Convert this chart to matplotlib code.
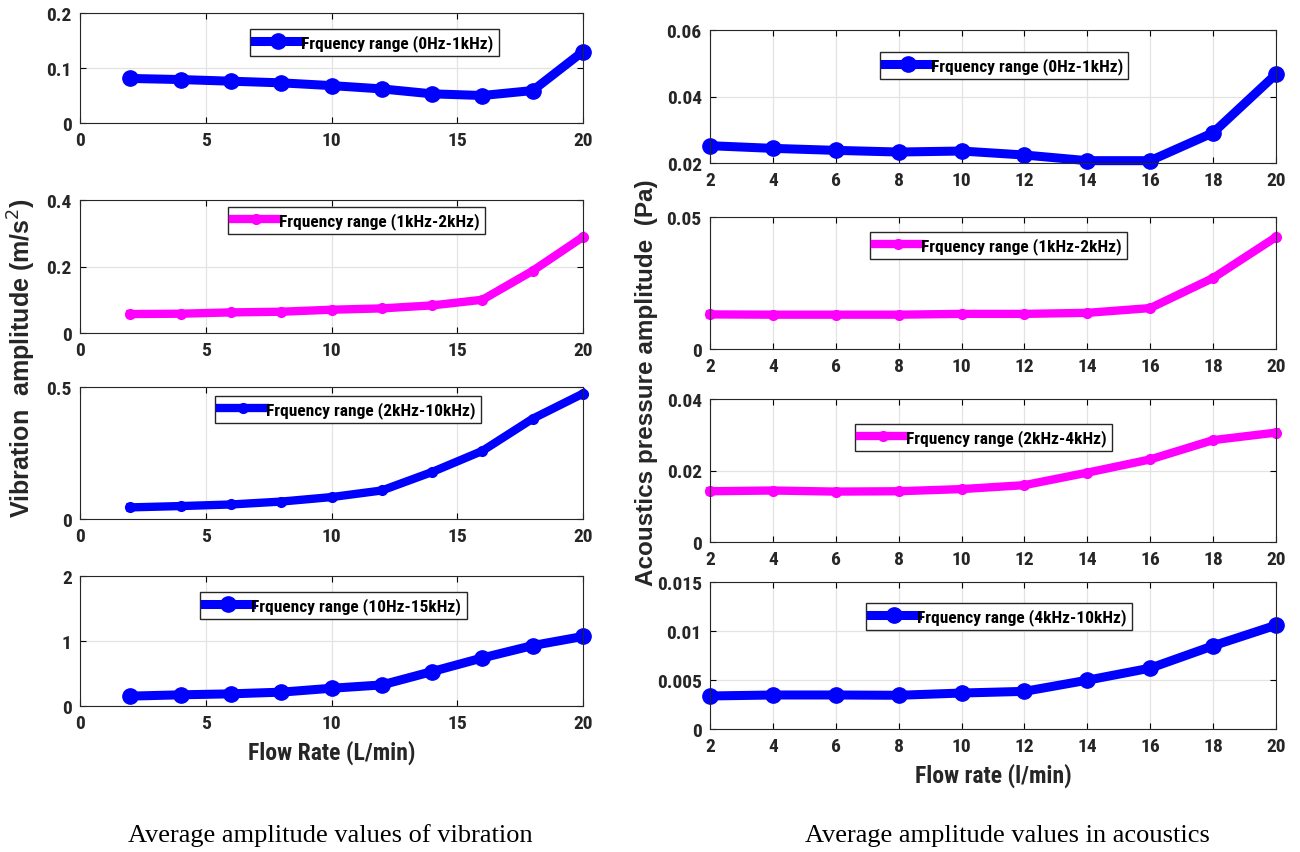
import matplotlib
matplotlib.use("Agg")
import matplotlib.pyplot as plt
from matplotlib import font_manager

# ---------------- data ----------------
flow = [2, 4, 6, 8, 10, 12, 14, 16, 18, 20]

vib_0_1k = [0.081, 0.079, 0.076, 0.073, 0.068, 0.062, 0.053, 0.050, 0.059, 0.130]
vib_1k_2k = [0.057, 0.058, 0.062, 0.064, 0.070, 0.074, 0.083, 0.100, 0.187, 0.289]
vib_2k_10k = [0.044, 0.049, 0.055, 0.066, 0.083, 0.108, 0.178, 0.258, 0.380, 0.475]
vib_10_15k = [0.152, 0.172, 0.187, 0.213, 0.273, 0.324, 0.530, 0.740, 0.930, 1.070]

ac_0_1k = [0.0252, 0.0244, 0.0238, 0.0233, 0.0236, 0.0224, 0.0207, 0.0207, 0.0291, 0.0467]
ac_1k_2k = [0.0131, 0.0130, 0.0130, 0.0130, 0.0133, 0.0133, 0.0137, 0.0155, 0.0269, 0.0424]
ac_2k_4k = [0.0142, 0.0144, 0.0141, 0.0142, 0.0148, 0.0159, 0.0194, 0.0231, 0.0285, 0.0306]
ac_4k_10k = [0.00337, 0.00347, 0.00347, 0.00344, 0.00367, 0.00384, 0.00498, 0.00621, 0.00849, 0.01059]

vib_labels = ["Frquency range (0Hz-1kHz)", "Frquency range (1kHz-2kHz)",
              "Frquency range (2kHz-10kHz)", "Frquency range (10Hz-15kHz)"]
ac_labels = ["Frquency range (0Hz-1kHz)", "Frquency range (1kHz-2kHz)",
             "Frquency range (2kHz-4kHz)", "Frquency range (4kHz-10kHz)"]

vib_yticks = [[0, 0.1, 0.2], [0, 0.2, 0.4], [0, 0.5], [0, 1, 2]]
vib_yticklabels = [["0", "0.1", "0.2"], ["0", "0.2", "0.4"], ["0", "0.5"], ["0", "1", "2"]]
vib_xticks = [0, 5, 10, 15, 20]
ac_yticks = [[0.02, 0.04, 0.06], [0, 0.05], [0, 0.02, 0.04], [0, 0.005, 0.01, 0.015]]
ac_yticklabels = [["0.02", "0.04", "0.06"], ["0", "0.05"], ["0", "0.02", "0.04"],
                  ["0", "0.005", "0.01", "0.015"]]
ac_xticks = [2, 4, 6, 8, 10, 12, 14, 16, 18, 20]

# ---------------- fonts ----------------
names = {f.name for f in font_manager.fontManager.ttflist}
narrow = "Liberation Sans"
for cand in ["Liberation Sans Narrow", "Arial Narrow", "Roboto Condensed", "PT Sans Narrow",
             "Archivo Narrow", "Open Sans Condensed", "IBM Plex Sans Condensed"]:
    if cand in names:
        narrow = cand
        break
NARROW = [narrow, "DejaVu Sans"]

BLUE = "#0000ff"
MAG = "#ff00ff"
big = dict(lw=6.5, marker="o", ms=11)
small = dict(lw=6, marker="o", ms=7)

W, H = 1300, 853
fig = plt.figure(figsize=(W / 100, H / 100), dpi=100)


def rect(x0, x1, y0, y1):
    return [x0 / W, 1 - y1 / H, (x1 - x0) / W, (y1 - y0) / H]


left_rows = [(14, 124), (201, 334), (388, 520), (577, 707)]
right_rows = [(31, 164), (218, 350), (400, 543), (583, 730)]

vib_data = [vib_0_1k, vib_1k_2k, vib_2k_10k, vib_10_15k]
ac_data = [ac_0_1k, ac_1k_2k, ac_2k_4k, ac_4k_10k]
vib_style = [(BLUE, big), (MAG, small), (BLUE, small), (BLUE, big)]
ac_style = [(BLUE, big), (MAG, small), (MAG, small), (BLUE, big)]
vib_leg = [(0.338, 0.855), (0.294, 0.947), (0.268, 0.932), (0.239, 0.877)]
ac_leg = [(0.300, 0.835), (0.283, 0.886), (0.256, 0.825), (0.276, 0.857)]
vib_ylim = [(0, 0.2), (0, 0.4), (0, 0.5), (0, 2)]
ac_ylim = [(0.02, 0.06), (0, 0.05), (0, 0.04), (0, 0.015)]


def style_ax(ax):
    ax.grid(True, color="#e3e3e3", lw=0.9)
    ax.set_axisbelow(True)
    ax.tick_params(direction="in", top=True, right=True, length=4, width=0.8,
                   labelsize=14, pad=6)
    for lab in ax.get_xticklabels() + ax.get_yticklabels():
        lab.set_fontfamily(NARROW)
        lab.set_fontweight("bold")
        lab.set_color("#262626")
    for s in ax.spines.values():
        s.set_color("#262626")
        s.set_linewidth(0.8)


def leg(ax, pos):
    ax.legend(loc="upper left", bbox_to_anchor=pos, fancybox=False, framealpha=1,
              edgecolor="#262626", borderpad=0.3, handlelength=2.6, handletextpad=0.05,
              borderaxespad=0, prop={"family": NARROW, "weight": "bold", "size": 12.5})


for i in range(4):
    ax = fig.add_axes(rect(80, 583, *left_rows[i]))
    c, st = vib_style[i]
    ax.plot(flow, vib_data[i], color=c, mec=c, mfc=c, label=vib_labels[i], clip_on=False, **st)
    ax.set_xlim(0, 20)
    ax.set_ylim(*vib_ylim[i])
    ax.set_xticks(vib_xticks)
    ax.set_yticks(vib_yticks[i])
    ax.set_yticklabels(vib_yticklabels[i])
    style_ax(ax)
    leg(ax, vib_leg[i])
    if i == 3:
        ax.set_xlabel("Flow Rate (L/min)", fontfamily=NARROW, fontweight="bold",
                      fontsize=17, color="#262626", labelpad=5)

for i in range(4):
    ax = fig.add_axes(rect(710, 1276, *right_rows[i]))
    c, st = ac_style[i]
    ax.plot(flow, ac_data[i], color=c, mec=c, mfc=c, label=ac_labels[i], clip_on=False, **st)
    ax.set_xlim(2, 20)
    ax.set_ylim(*ac_ylim[i])
    ax.set_xticks(ac_xticks)
    ax.set_yticks(ac_yticks[i])
    ax.set_yticklabels(ac_yticklabels[i])
    style_ax(ax)
    leg(ax, ac_leg[i])
    if i == 3:
        ax.set_xlabel("Flow rate (l/min)", fontfamily=NARROW, fontweight="bold",
                      fontsize=17, color="#262626", labelpad=5)

fig.text(22 / W, 1 - 358 / H, "Vibration  amplitude (m/s$^2$)", rotation=90,
         ha="center", va="center", fontsize=18, fontweight="bold",
         fontfamily="Liberation Sans", color="#262626")
fig.text(646 / W, 1 - 383 / H, "Acoustics pressure amplitude  (Pa)", rotation=90,
         ha="center", va="center", fontsize=17.5, fontweight="bold",
         fontfamily="Liberation Sans", color="#262626")

fig.text(330 / W, 1 - 836 / H, "Average amplitude values of vibration", ha="center",
         va="center", fontsize=19, fontfamily="Liberation Serif")
fig.text(1007 / W, 1 - 836 / H, "Average amplitude values in acoustics", ha="center",
         va="center", fontsize=19, fontfamily="Liberation Serif")

fig.savefig("out.png", dpi=100)
